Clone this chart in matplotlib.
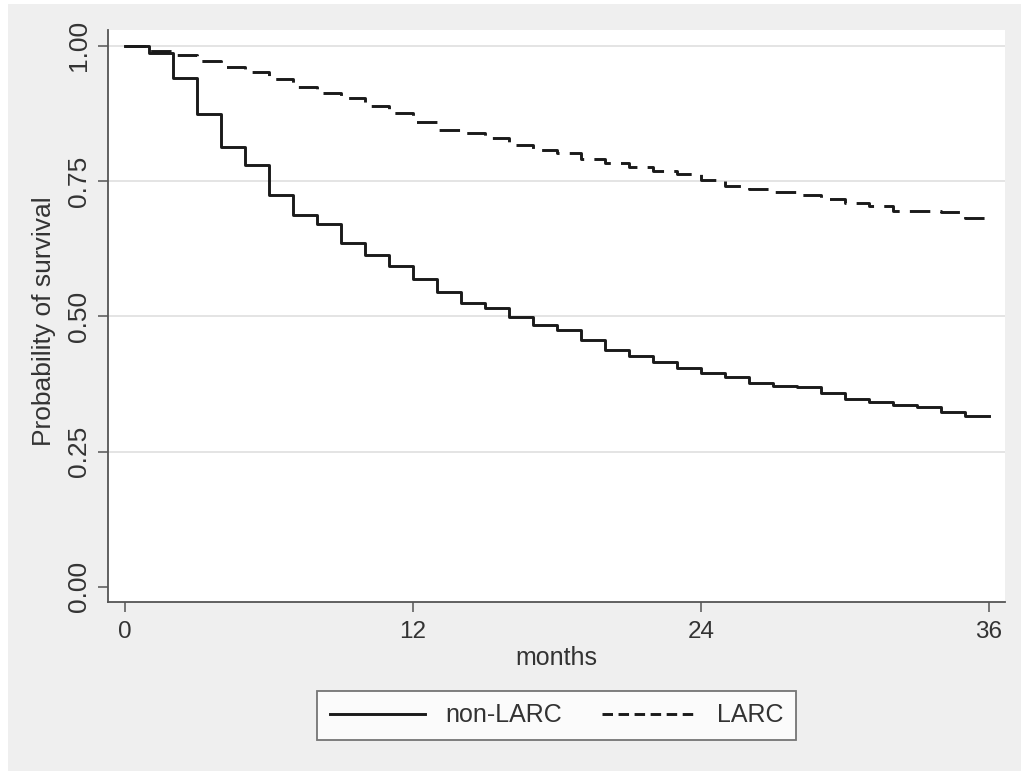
import matplotlib
matplotlib.use("Agg")
import matplotlib.pyplot as plt
from matplotlib.patches import Rectangle
from matplotlib.lines import Line2D

# data (month -> probability)
months = list(range(0, 37))
non_larc = [1.000, 0.986, 0.941, 0.874, 0.813, 0.779, 0.725, 0.688, 0.671, 0.635,
            0.613, 0.592, 0.568, 0.544, 0.524, 0.515, 0.498, 0.483, 0.474, 0.457,
            0.438, 0.426, 0.416, 0.404, 0.395, 0.387, 0.377, 0.372, 0.369, 0.359,
            0.348, 0.341, 0.336, 0.333, 0.324, 0.315, 0.315]
larc = [1.000, 0.991, 0.983, 0.972, 0.960, 0.951, 0.938, 0.924, 0.912, 0.903,
        0.889, 0.875, 0.859, 0.844, 0.838, 0.829, 0.816, 0.807, 0.801, 0.790,
        0.784, 0.776, 0.769, 0.762, 0.751, 0.741, 0.736, 0.730, 0.725, 0.717,
        0.709, 0.704, 0.694, 0.694, 0.692, 0.681, 0.676]
xticks = [0, 12, 24, 36]
yticks = [0.00, 0.25, 0.50, 0.75, 1.00]

plt.rcParams['font.family'] = ['Liberation Sans', 'DejaVu Sans']
txt = '#333333'
axcol = '#555555'

fig = plt.figure(figsize=(10.22, 7.71), dpi=100, facecolor='white')
# gray graph region with a thin white border
fig.patches.append(Rectangle((8/1022, 0), 1013/1022, 767/771, transform=fig.transFigure,
                             facecolor='#efefef', edgecolor='none', zorder=-10))

ax = fig.add_axes([108/1022, 1-602/771, 897/1022, 572/771])
ax.set_facecolor('white')

ax.step(months, non_larc, where='post', color='#1a1a1a', lw=2.1)
ax.step(months, larc, where='post', color='#1a1a1a', lw=2.1, dashes=(7, 3.5))

ax.set_xlim(-0.71, 36.67)
ax.set_ylim(-0.028, 1.029)
ax.set_xticks(xticks)
ax.set_yticks(yticks)
ax.set_yticklabels(['%.2f' % v for v in yticks], rotation=90, va='center', fontsize=19)

for v in yticks[1:]:
    ax.axhline(v, color='#e4e4e4', lw=1.4, zorder=0)

for s in ['top', 'right']:
    ax.spines[s].set_visible(False)
for s in ['left', 'bottom']:
    ax.spines[s].set_color(axcol)
    ax.spines[s].set_linewidth(1.3)

ax.tick_params(axis='both', direction='out', length=7, width=1.1, color=axcol,
               labelcolor=txt)
ax.tick_params(axis='x', pad=7, labelsize=17.5)
ax.tick_params(axis='y', pad=5)

ax.set_xlabel('months', fontsize=18, color=txt)
ax.xaxis.set_label_coords(0.5, -0.098)
ax.xaxis.label.set_va('center')
ax.set_ylabel('Probability of survival', fontsize=19, color=txt)
ax.yaxis.set_label_coords(-0.058, 0.491)

handles = [Line2D([], [], color='#1a1a1a', lw=2.1),
           Line2D([], [], color='#1a1a1a', lw=2.1, dashes=(3.6, 1.9))]
leg = fig.legend(handles, ['non-LARC', 'LARC'], loc='center',
                 bbox_to_anchor=((316+797)/2/1022, 1-(690+741)/2/771),
                 ncol=2, fontsize=18, frameon=True, fancybox=False,
                 handlelength=3.8, columnspacing=1.6, handletextpad=0.8,
                 borderpad=0.5, labelcolor=txt)
leg.get_frame().set_edgecolor(axcol)
leg.get_frame().set_linewidth(1.3)
leg.get_frame().set_facecolor('white')

fig.savefig('out.png', dpi=100, facecolor=fig.get_facecolor())
